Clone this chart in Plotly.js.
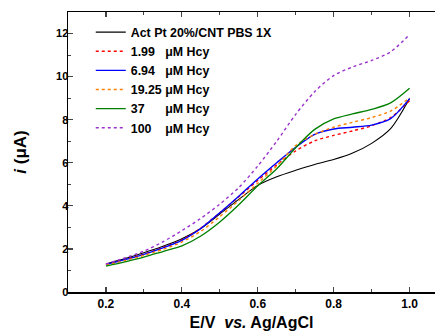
<!DOCTYPE html>
<html>
<head>
<meta charset="utf-8">
<script src="https://cdn.plot.ly/plotly-3.0.1.min.js"></script>
<style>html,body{margin:0;padding:0;background:#fff;}#chart{width:435px;height:336px;}</style>
</head>
<body>
<div id="chart"></div>
<script>
const potential = [0.20,0.25,0.30,0.35,0.40,0.45,0.50,0.55,0.60,0.65,0.70,0.75,0.80,0.85,0.90,0.95,1.00];
const seriesNames = ["Act Pt 20%/CNT PBS 1X","1.99\u00A0\u00A0\u00A0\u03BCM Hcy","6.94\u00A0\u00A0\u00A0\u03BCM Hcy","19.25\u00A0\u03BCM Hcy","37\u00A0\u00A0\u00A0\u00A0\u00A0\u00A0\u03BCM Hcy","100\u00A0\u00A0\u00A0\u00A0\u03BCM Hcy"];
const blank   = [1.30,1.55,1.82,2.12,2.47,2.95,3.62,4.30,4.95,5.35,5.65,5.92,6.15,6.45,6.90,7.58,8.98];
const hcy1_99 = [1.28,1.51,1.76,2.07,2.42,2.97,3.68,4.42,5.18,5.90,6.55,7.02,7.27,7.48,7.72,8.10,8.88];
const hcy6_94 = [1.27,1.50,1.75,2.05,2.40,2.95,3.68,4.45,5.25,6.00,6.72,7.32,7.57,7.65,7.75,8.05,8.98];
const hcy19_25= [1.25,1.46,1.70,1.98,2.32,2.82,3.50,4.25,5.05,5.85,6.80,7.32,7.65,7.88,8.10,8.40,9.02];
const hcy37   = [1.20,1.40,1.62,1.88,2.14,2.60,3.25,4.05,4.93,5.72,6.70,7.55,8.04,8.27,8.48,8.78,9.46];
const hcy100  = [1.30,1.58,1.90,2.33,2.85,3.42,4.08,4.85,5.85,7.00,8.25,9.30,10.05,10.45,10.75,11.15,11.95];

const seriesValues = [blank,hcy1_99,hcy6_94,hcy19_25,hcy37,hcy100];
const colors = ["#000000","#ff0000","#0000ff","#ff8000","#008000","#9932cc"];
const dashes = ["solid","dot","solid","dot","solid","dot"];
const widths = [1.1,1.4,1.4,1.4,1.3,1.4];

const traces = seriesValues.map((v,k)=>({
  x: potential, y: v, type:'scatter', mode:'lines', name: seriesNames[k],
  line:{color:colors[k], dash:dashes[k], width:widths[k], shape:'spline', smoothing:0.8}
}));

const fontFam = "Arial, 'Liberation Sans', sans-serif";
const layout = {
  width:435, height:336,
  margin:{l:68, r:0, t:12, b:44},
  paper_bgcolor:'#fff', plot_bgcolor:'#fff',
  showlegend:true,
  legend:{x:0.062, y:0.98, xanchor:'left', yanchor:'top', bgcolor:'rgba(0,0,0,0)',
          font:{family:fontFam, size:12.4, color:'#000', weight:'bold'}, tracegroupgap:0},
  xaxis:{range:[0.1,1.067], tick0:0.2, dtick:0.2, ticks:'inside', ticklen:5, tickwidth:1.2,
         showline:true, linecolor:'#000', linewidth:1.5, mirror:'ticks', showgrid:false, zeroline:false,
         minor:{dtick:0.1, ticks:'inside', ticklen:3, tickwidth:1, showgrid:false},
         tickformat:'.1f',
         tickfont:{family:fontFam, size:12, color:'#000', weight:'bold'},
         title:{text:"E/V\u00A0\u00A0<i>vs.</i> Ag/AgCl", font:{family:fontFam, size:16, color:'#000', weight:'bold'}, standoff:7}},
  yaxis:{range:[0,13], tick0:0, dtick:2, ticks:'inside', ticklen:5, tickwidth:1.2,
         showline:true, linecolor:'#000', linewidth:1.5, showgrid:false, zeroline:false,
         minor:{dtick:1, ticks:'inside', ticklen:3, tickwidth:1, showgrid:false},
         ticklabelstandoff:-4,
         tickfont:{family:fontFam, size:11, color:'#000', weight:'bold'},
         title:{text:"<i>i</i> (\u03BCA)", font:{family:fontFam, size:17, color:'#000', weight:'bold'}, standoff:25}}
};
Plotly.newPlot('chart', traces, layout, {staticPlot:true, displayModeBar:false});
</script>
</body>
</html>
